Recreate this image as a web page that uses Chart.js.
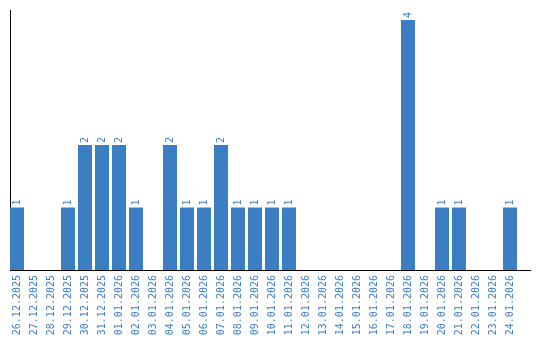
<!DOCTYPE html>
<html>
<head>
<meta charset="utf-8">
<script src="https://cdn.jsdelivr.net/npm/chart.js@4/dist/chart.umd.min.js"></script>
<style>
html,body{margin:0;padding:0;background:#fff;}
#wrap{width:540px;height:340px;position:relative;}
</style>
</head>
<body>
<div id="wrap"><canvas id="c"></canvas></div>
<script>
const categories = ["26.12.2025","27.12.2025","28.12.2025","29.12.2025","30.12.2025","31.12.2025","01.01.2026","02.01.2026","03.01.2026","04.01.2026","05.01.2026","06.01.2026","07.01.2026","08.01.2026","09.01.2026","10.01.2026","11.01.2026","12.01.2026","13.01.2026","14.01.2026","15.01.2026","16.01.2026","17.01.2026","18.01.2026","19.01.2026","20.01.2026","21.01.2026","22.01.2026","23.01.2026","24.01.2026"];
const counts = [1,0,0,1,2,2,2,1,0,2,1,1,2,1,1,1,1,0,0,0,0,0,0,4,0,1,1,0,0,1];

const BLUE = '#3b7ec4';
const FONT = '"DejaVu Sans Mono", "Liberation Mono", monospace';

const valueLabels = {
  id: 'valueLabels',
  afterDatasetsDraw(chart) {
    const ctx = chart.ctx;
    const meta = chart.getDatasetMeta(0);
    ctx.save();
    ctx.fillStyle = BLUE;
    ctx.font = '10px ' + FONT;
    ctx.textAlign = 'left';
    ctx.textBaseline = 'middle';
    meta.data.forEach((bar, i) => {
      const v = counts[i];
      if (!v) return;
      ctx.save();
      ctx.translate(bar.x, bar.y - 2);
      ctx.rotate(-Math.PI / 2);
      ctx.fillText(String(v), 0, 0);
      ctx.restore();
    });
    ctx.restore();
  }
};

new Chart(document.getElementById('c'), {
  type: 'bar',
  data: {
    labels: categories,
    datasets: [{
      data: counts,
      backgroundColor: BLUE,
      borderWidth: 0,
      categoryPercentage: 1,
      barPercentage: 14/17
    }]
  },
  options: {
    responsive: true,
    maintainAspectRatio: false,
    animation: false,
    layout: { padding: { left: 10, top: 10, right: 10, bottom: 0 } },
    plugins: { legend: { display: false }, tooltip: { enabled: false } },
    scales: {
      x: {
        grid: { display: false, drawTicks: false },
        border: { display: true, color: '#000', width: 1 },
        ticks: {
          autoSkip: false,
          minRotation: 90,
          maxRotation: 90,
          padding: 5,
          color: BLUE,
          font: { family: FONT, size: 10 }
        },
        afterFit(scale) {
          scale.height = 70;
          scale.paddingLeft = 0;
          scale.paddingRight = 0;
        },
        afterBuildTicks(scale) {
          const w = 520;
          scale._valueRange = w / 17;
          scale._startValue = -7 / 17;
        }
      },
      y: {
        min: 0,
        max: 4.16,
        grid: { display: false, drawTicks: false },
        border: { display: true, color: '#000', width: 1 },
        ticks: { display: false }
      }
    }
  },
  plugins: [valueLabels]
});
</script>
</body>
</html>
